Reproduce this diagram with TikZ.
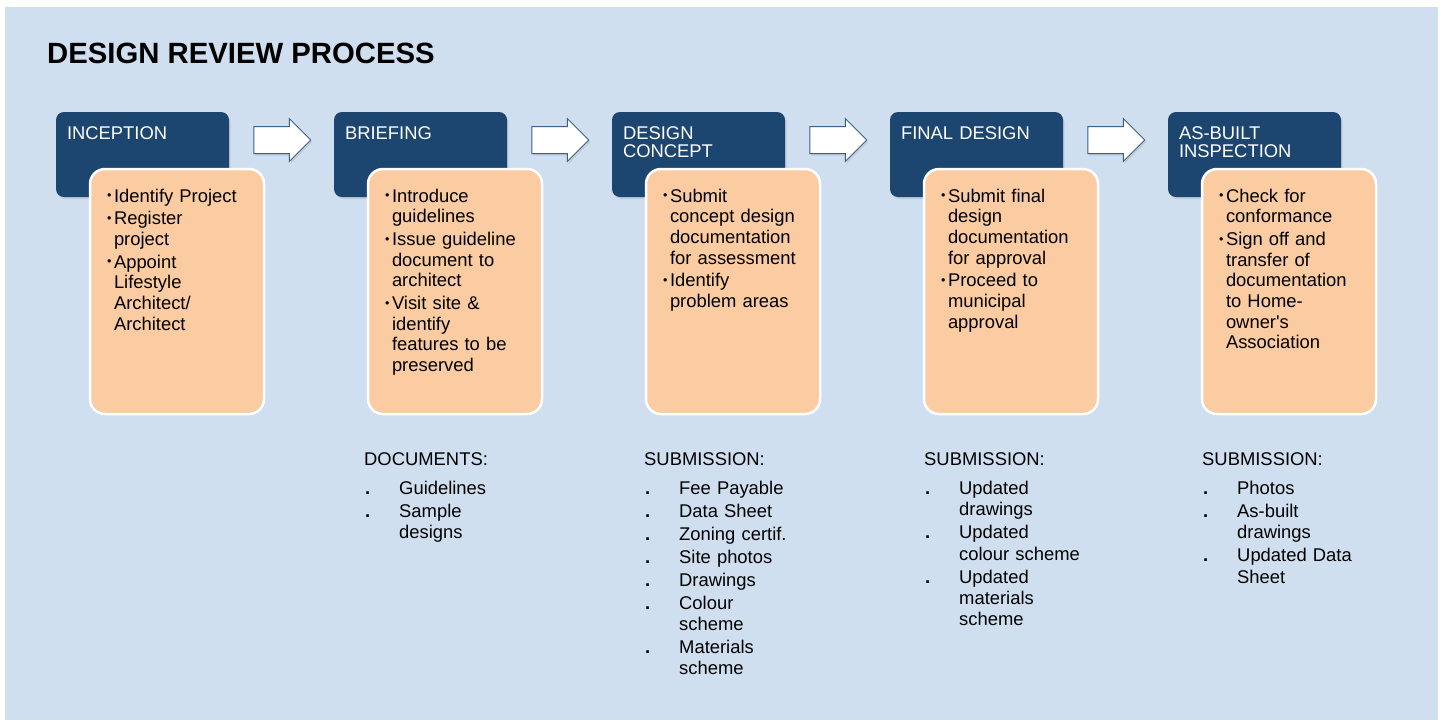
\documentclass[tikz,border=0pt]{standalone}
\usepackage{fontspec}
\setmainfont{Liberation Sans}[Ligatures=TeXOff]
\usetikzlibrary{positioning,shapes.arrows,shadows}

\definecolor{pagebg}{HTML}{CFDFF0}
\definecolor{headblue}{HTML}{1C4570}
\definecolor{notepeach}{HTML}{FBCBA1}
\definecolor{arrowline}{HTML}{3D5E86}

\tikzstyle{head} = [fill=headblue, rounded corners=8pt, text=white, align=left,
    text width=151pt, inner xsep=11pt, inner ysep=0pt, outer sep=0pt,
    text height=27pt, text depth=58pt, font=\fontsize{18.4}{18.7}\selectfont,
    drop shadow={opacity=0.2, shadow xshift=1.5pt, shadow yshift=-2pt}]
\tikzstyle{notes} = [draw=white, line width=2.5pt, fill=notepeach, rounded corners=15pt,
    align=left, text width=126pt, inner xsep=24pt, inner ysep=0pt, outer sep=0pt,
    text height=33pt, text depth=212pt, font=\fontsize{18.4}{20.7}\selectfont,
    anchor=north west]
\tikzstyle{blockarrow} = [single arrow, draw=arrowline, fill=white, line width=1pt,
    minimum height=57pt, inner xsep=0pt, inner ysep=13pt, single arrow head extend=8pt,
    drop shadow={opacity=0.2, shadow xshift=1.5pt, shadow yshift=-2pt}]
\tikzstyle{doclist} = [align=left, text width=200pt, inner sep=0pt, anchor=base west,
    font=\fontsize{18.4}{21.3}\selectfont]

\newcommand{\pbul}{\makebox[0pt][r]{\raisebox{2.3pt}{\fontsize{12.5}{12.5}\selectfont\textbullet}\hspace{2.5pt}}}
\newcommand{\dbul}{\makebox[35pt][l]{\hspace{1pt}\textbf{.}}}
\newcommand{\dind}{\hspace*{35pt}}

\begin{document}
\begin{tikzpicture}[x=1pt, y=-1pt, node distance=278pt]
    \useasboundingbox (0,0) rectangle (1440,721);
    \fill[pagebg] (5,7) rectangle (1438,720);

    \node[font=\fontsize{29.3}{32}\selectfont\bfseries, anchor=base west, inner sep=0pt]
        (title) at (47,63.5) {DESIGN REVIEW PROCESS};

    % stage headers
    \node[head] (inception) at (142.5,154.5) {INCEPTION};
    \node[head, right of=inception] (briefing) {BRIEFING};
    \node[head, right of=briefing] (concept) {DESIGN\\CONCEPT};
    \node[head, right of=concept] (final) {FINAL DESIGN};
    \node[head, right of=final] (asbuilt) {AS-BUILT\\INSPECTION};

    % arrows between the stages
    \node[blockarrow, node distance=133pt, right of=inception, yshift=14.5pt] (arrow1) {};
    \node[blockarrow, node distance=133pt, right of=briefing, yshift=14.5pt] (arrow2) {};
    \node[blockarrow, node distance=133pt, right of=concept, yshift=14.5pt] (arrow3) {};
    \node[blockarrow, node distance=133pt, right of=final, yshift=14.5pt] (arrow4) {};

    % tasks
    \node[notes] (inception-list) at ([shift={(34,57)}]inception.north west)
        {\pbul Identify Project\\[2pt]\pbul Register\\project\\[2pt]\pbul Appoint\\Lifestyle\\Architect/\\Architect};
    \node[notes] (briefing-list) at ([shift={(34,57)}]briefing.north west)
        {\pbul Introduce\\guidelines\\[2pt]\pbul Issue guideline\\document to\\architect\\[2pt]\pbul Visit site \&\\identify\\features to be\\preserved};
    \node[notes] (concept-list) at ([shift={(34,57)}]concept.north west)
        {\pbul Submit\\concept design\\documentation\\for assessment\\[2pt]\pbul Identify\\problem areas};
    \node[notes] (final-list) at ([shift={(34,57)}]final.north west)
        {\pbul Submit final\\design\\documentation\\for approval\\[2pt]\pbul Proceed to\\municipal\\approval};
    \node[notes] (asbuilt-list) at ([shift={(34,57)}]asbuilt.north west)
        {\pbul Check for\\conformance\\[2pt]\pbul Sign off and\\transfer of\\documentation\\to Home-\\owner's\\Association};

    % documents and submissions
    \node[doclist] (briefing-docs) at ([shift={(-4,51.6)}]briefing-list.south west)
        {DOCUMENTS:\\[7.7pt]\dbul Guidelines\\[1.6pt]\dbul Sample\\\dind designs};
    \node[doclist] (concept-docs) at ([shift={(-2,51.6)}]concept-list.south west)
        {SUBMISSION:\\[7.7pt]\dbul Fee Payable\\[1.6pt]\dbul Data Sheet\\[1.6pt]\dbul Zoning certif.\\[1.6pt]\dbul Site photos\\[1.6pt]\dbul Drawings\\[1.6pt]\dbul Colour\\\dind scheme\\[1.6pt]\dbul Materials\\\dind scheme};
    \node[doclist] (final-docs) at ([shift={(0,51.6)}]final-list.south west)
        {SUBMISSION:\\[7.7pt]\dbul Updated\\\dind drawings\\[1.6pt]\dbul Updated\\\dind colour scheme\\[1.6pt]\dbul Updated\\\dind materials\\\dind scheme};
    \node[doclist] (asbuilt-docs) at ([shift={(0,51.6)}]asbuilt-list.south west)
        {SUBMISSION:\\[7.7pt]\dbul Photos\\[1.6pt]\dbul As-built\\\dind drawings\\[1.6pt]\dbul Updated Data\\\dind Sheet};
\end{tikzpicture}
\end{document}
